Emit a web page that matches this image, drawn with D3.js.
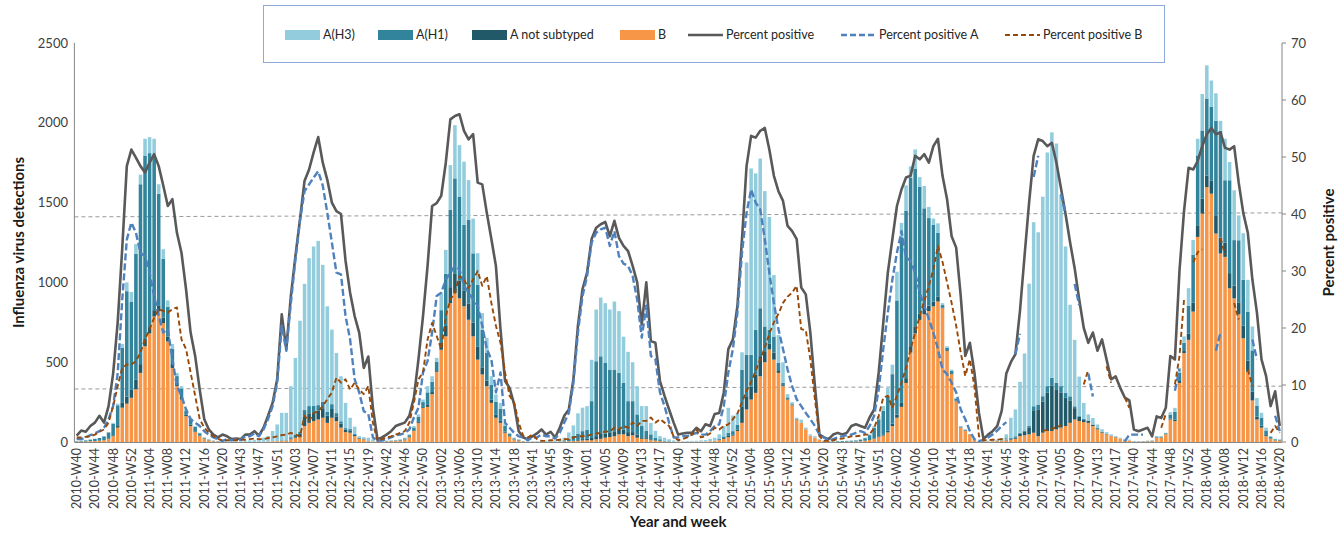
<!DOCTYPE html>
<html><head><meta charset="utf-8">
<script src="https://cdn.jsdelivr.net/npm/d3@7"></script>
<style>
body{margin:0;background:#fff}
svg{display:block}
text{font-family:Lato,"Open Sans","Liberation Sans",sans-serif}
</style>
</head><body>
<svg id="chart" width="1344" height="533"></svg>
<script>
// ---------- DATA ----------
const seasonStartYears = [2010, 2011, 2012, 2013, 2014, 2015, 2016, 2017];
const weeksInYear = {2010: 52, 2011: 52, 2012: 52, 2013: 52, 2014: 52, 2015: 53, 2016: 52, 2017: 52};
const leftTicks = [0, 500, 1000, 1500, 2000, 2500];
const rightTicks = [0, 10, 20, 30, 40, 50, 60, 70];
const thresholdLines = [[39.5, 40.2], [9.3, 9.8]]; // percent, at first and last week

const h3 = [
0,0,0,0,0,0,0,0,5,10,25,55,60,60,60,105,100,100,60,60,40,30,20,15,10,8,5,3,0,0,0,0,0,
4,4,5,5,7,9,11,17,25,34,64,105,172,172,320,480,695,791,927,999,1029,858,660,467,377,282,158,71,46,10,9,21,14,
1,1,1,2,2,3,4,5,9,16,16,39,34,26,107,150,280,333,322,395,250,218,198,104,94,55,45,38,19,7,4,3,1,
2,3,3,4,6,6,7,12,16,40,66,127,147,148,259,324,368,375,376,426,387,290,309,244,177,125,156,72,43,20,19,12,7,
4,4,5,5,6,7,9,15,19,29,65,156,98,71,109,578,1167,980,938,848,707,385,175,130,20,13,8,20,10,8,10,5,4,
1,1,1,1,1,2,2,2,3,5,10,20,30,50,60,180,90,160,70,120,60,140,70,40,60,12,10,8,5,3,2,0,0,0,
3,5,5,8,14,33,127,168,320,483,892,1153,1079,1250,1464,1538,1500,1200,917,574,416,248,100,38,40,23,17,10,8,5,5,5,5,
1,1,1,1,2,3,3,3,15,25,30,40,110,94,104,229,208,166,173,62,260,114,312,156,291,200,150,50,30,18,6,3,3
];
const h1 = [
3,5,7,10,14,17,23,40,73,125,345,660,553,790,1127,1150,1090,974,702,368,187,95,43,54,22,36,28,15,5,5,3,2,2,
0,0,0,0,0,0,0,0,0,0,0,0,3,3,8,10,15,40,45,40,35,40,25,30,20,15,10,8,5,3,2,0,0,
2,2,3,2,3,5,7,11,18,31,30,75,65,51,205,327,485,599,528,411,525,435,389,236,173,92,83,72,36,13,7,5,2,
1,1,1,1,1,1,1,2,8,15,30,40,50,55,231,469,487,443,393,387,350,292,194,194,126,70,39,31,16,10,5,3,2,
0,0,0,0,0,0,0,0,0,5,10,20,20,30,233,260,200,280,300,160,85,100,45,14,10,5,3,0,0,0,0,0,0,
3,3,4,5,5,6,7,10,16,31,67,107,147,220,310,715,1038,1048,1057,988,795,624,548,480,400,15,15,15,12,5,5,3,2,1,
0,0,1,1,2,3,5,8,5,5,8,25,30,35,42,50,44,39,31,25,12,5,3,2,2,1,1,1,1,0,0,0,0,
2,2,2,2,2,6,6,6,26,48,52,52,174,300,438,427,482,460,596,669,390,582,285,389,287,306,259,67,51,29,9,6,5
];
const aNotSubtyped = [
0,0,0,0,0,0,0,0,5,15,30,45,50,60,55,45,40,40,35,35,30,25,20,15,10,8,5,3,2,0,0,0,0,
0,0,0,0,0,0,0,0,0,0,0,0,0,0,5,10,20,60,60,55,55,60,45,55,30,25,15,15,8,4,3,0,0,
0,0,0,1,1,1,1,2,4,6,6,16,13,10,43,65,100,120,110,100,100,85,80,45,35,20,18,15,7,3,1,1,0,
0,0,0,0,0,0,0,0,0,0,3,5,8,10,15,20,30,25,30,30,35,30,25,20,20,10,10,5,3,2,0,0,0,
0,0,0,0,0,0,0,0,0,2,5,8,8,10,100,83,81,115,126,64,38,45,17,6,4,2,1,0,0,0,0,0,0,
0,0,0,0,0,0,0,0,0,0,3,5,8,10,15,20,25,30,40,45,40,40,35,30,30,5,5,6,5,2,2,0,0,0,
0,0,0,1,1,2,5,8,15,25,44,141,168,194,239,283,247,221,177,141,71,26,17,13,8,7,4,3,2,2,0,0,0,
0,0,0,1,1,1,1,1,5,10,12,13,40,55,73,94,73,83,110,100,90,95,80,75,80,70,55,18,12,6,2,1,1
];
const bVirus = [
2,3,3,5,6,8,12,20,37,90,215,240,277,330,433,600,680,786,818,745,630,464,350,266,162,100,62,37,20,10,5,3,3,
1,1,1,1,1,1,1,1,2,3,5,5,8,8,17,27,30,100,120,131,141,152,120,152,131,90,62,58,37,20,17,6,3,
2,3,4,5,6,8,15,30,69,120,214,220,300,440,578,662,870,933,900,850,766,662,516,423,350,245,152,120,58,35,15,8,3,
1,1,1,1,1,1,2,3,3,5,5,8,10,12,10,17,20,27,31,37,48,48,37,42,27,20,20,12,8,5,3,2,1,
1,1,1,2,2,3,3,5,8,12,20,30,40,69,120,204,266,308,412,500,580,516,433,350,266,230,140,120,80,40,27,15,6,
1,1,1,1,2,2,3,5,8,12,20,30,40,60,100,152,220,370,560,680,765,800,820,850,880,838,570,425,255,90,70,45,18,5,
2,3,4,5,8,10,15,20,37,42,48,58,37,58,69,69,79,90,100,120,141,131,125,120,100,79,58,48,37,30,22,15,10,
2,2,3,4,5,27,27,48,141,131,370,557,640,817,1285,1431,1597,1556,1306,1181,1160,963,900,800,650,440,260,141,90,37,20,10,8
];
const pctPositive = [
1.1,2.0,1.8,2.8,3.4,4.6,3.4,6.3,12,21,34,48.4,51.3,49.9,48.4,47.3,49,50.5,48.4,45,41.4,42.6,36.7,33.2,26.8,19.2,15.1,9.2,4,2.2,1.3,0.8,1.3,
1.0,0.5,0.6,0.5,1.3,1.3,1.9,1.1,2.5,4.6,6.9,11,22.4,16.3,25.6,32.6,39,45.8,47.8,50.8,53.5,49,46,42,40.5,40,31.8,26.2,22.1,19.2,13,15,6,
0.5,0.8,1.3,1.9,2.8,3.1,3.4,4.6,7.8,14.5,22.1,30.9,41.4,41.9,43.2,49,56.6,57.2,57.5,54.6,53.1,54,45.5,45.2,40.2,35.6,30.9,19.8,10.7,9.5,6.6,1.9,0.8,
0.5,1.0,1.5,2.2,1.3,1.8,0.8,2.5,4.6,5.7,11,20.4,26.8,29.7,35.6,37.6,38.2,38.6,36.1,38.8,35.8,34.4,33.5,30.9,28,20.6,28,17.7,17.4,10.7,8.1,5.7,3.4,
1.3,1.5,1.6,1.6,2.5,1.9,3.1,2.8,4.9,5.1,8.7,16.3,18,23.9,35.6,48.4,53.7,53.4,54.6,55.1,51.3,46.7,44,42.3,37.9,37,35.6,27.1,25.9,19.2,9.8,1.3,0.8,
0.5,1.3,1.6,1.3,1.6,2.8,3.1,2.8,2.5,4.3,5.7,12.2,20.9,29.7,35.6,41.4,44.3,46.4,46.7,50.2,49.6,50.5,49,51.9,53.2,46.7,42.6,36.1,34.1,25.6,15.1,17.4,12.2,5.1,
0.5,1.3,1.9,2.8,5.5,12,14,15.4,23,32.6,42,50.2,53.1,52.8,51.9,52.5,49,44.5,40,35,30.5,25,20,17.4,19.2,16,18,14.5,11,11.5,9.5,7.8,7.3,
2.2,1.9,2.2,2.5,1.0,4.5,4.2,6.0,15.1,14.5,30,40.5,48.1,47.8,49.3,51.9,54,55.1,54,54.3,51.6,51.3,51.9,45.5,40.2,36.7,28.5,22.7,14.5,11.6,6.3,8.9,2.8
];
const pctPositiveA = [
0.5,0.5,0.8,1.2,1.5,1.9,2.5,4,6.3,12,25,35.5,38.5,36.7,33.2,32.6,29.7,25.6,22.1,19.2,19.8,14.5,9.8,8.1,5.7,4,3.4,2.8,1.9,1.3,0.8,0.5,0.2,
0.5,0.3,0.5,0.4,1,1,1.5,1,2.2,4,6.3,10.4,20.4,16,24.4,32,38.8,44,45.2,46.4,47.5,45,40.2,35,29.7,29.4,22.1,18,11,8.7,5.4,4.9,0.8,
0.2,0.3,0.5,0.8,1.2,1.3,1.6,2.2,4.3,6,12.2,14.2,19.2,25.6,26.2,28.5,29.7,30.9,30.3,27.4,26.2,25,23.9,20.4,16.3,14.5,8.7,12.2,3.4,2.5,1.6,1,0.8,
0.3,0.8,0.8,1.3,1.0,1.0,0.6,1.6,3.4,5.1,10.4,19.2,25.6,29.1,35,36.7,37.3,37.6,34.4,37,32.6,31.3,30.9,29.1,25,18.3,23.9,15.1,14.5,8.7,6.3,3.4,0.8,
0.8,1.0,1.0,1.3,1.6,1.3,1.3,1.9,2.8,3.1,6.3,12.2,16.3,22.7,33.2,40.2,44.3,42,40.8,35.6,29.7,24.4,19.8,16.3,12.7,9.8,7.5,6.3,5.1,4,2.8,1.3,0.8,
0.2,0.5,0.8,1.0,1.2,1.3,1.6,1.9,1.6,2.8,4.6,9.2,16.3,22.7,28.5,33.2,37,32.3,31.8,29.7,26.2,23.9,21.6,19.2,16.3,12.7,11.9,10.4,8.7,5.7,4,1.9,0.5,0.2,
0.3,0.8,1.3,2.0,2.8,3.5,null,15.4,19,null,null,46.5,50.2,null,null,null,null,43.5,40,null,27.7,24,null,12,8,null,null,null,null,null,null,0.1,1.3,
1.3,1.3,1.3,null,null,null,null,null,null,9,12.8,null,null,null,null,null,null,null,16,19.2,null,null,null,null,null,null,18,14.5,null,null,null,4.6,1.9
];
const pctPositiveB = [
0.8,0.8,0.9,1.0,1.3,1.8,2.2,3.4,6.3,9.8,13,13.6,13.6,14.2,15.7,18,19.8,21.8,23.3,23,22.7,23.3,23.6,18,16.3,12.2,8.1,4,2.5,1.6,1,0.6,0.2,
0.3,0.3,0.3,0.4,0.4,0.5,0.6,0.5,0.5,0.7,0.8,1,1.2,1.3,1.6,1.3,1.0,4.6,3.7,5.1,5.4,6.3,7.5,8.7,11.3,10.4,11,9.2,10.4,9.2,8.4,9.8,3.4,
0.2,0.5,0.8,1.0,1.3,1.6,1.9,3.4,6.9,11,12.2,18,20.9,18.6,16.3,22.1,25,26.2,29.1,28.5,27,28.5,30,27.4,29.1,24.4,20.4,17.4,12.2,8.1,6.9,3.4,1.05,
0.8,1.3,0.5,0.2,0.2,0.3,0.3,0.4,0.5,0.5,0.8,1.0,1.0,1.1,1.3,1.5,1.6,1.8,1.9,2.5,2.2,2.8,2.5,3.4,2.8,3.7,3.7,4.3,3.4,4,3.4,2.8,1.0,
0.3,0.5,0.8,1.3,2.2,0.8,1.0,1.5,2.5,2.2,2.8,3.1,4,5,7,9,10.5,12.5,14.5,16.5,19,21,22.5,24.4,25.5,26.2,27.4,19.8,19.6,14.5,7.5,1.0,0.2,
0.2,0.3,0.5,0.6,0.8,1.0,1.0,1.1,1.3,1.3,2.5,4.6,7.8,8.1,6,8.1,10.4,13,16.3,19.2,22.1,24.7,27.4,30.3,34.4,31.6,28,24.4,20.4,15.7,11.6,14.5,9.8,1,
0.3,0.3,0.4,0.4,0.5,0.6,null,null,null,null,null,null,null,2.0,2.1,2.3,2.6,2.9,null,null,null,null,10.1,12.7,null,null,null,13.3,10.4,null,null,7.8,6.0,
null,null,null,null,null,null,2.5,4.9,null,10.1,15,25,null,31.5,33.3,33.8,null,null,null,35.8,32.9,null,24.4,21.5,null,12.7,9.8,null,null,null,1.6,2.8,1.6
];

// ---------- CATEGORIES ----------
const pad2 = n => (n < 10 ? "0" : "") + n;
const weeks = [];
seasonStartYears.forEach(y => {
  for (let w = 40; w <= weeksInYear[y]; w++) weeks.push(`${y}-W${pad2(w)}`);
  for (let w = 1; w <= 20; w++) weeks.push(`${y + 1}-W${pad2(w)}`);
});

const rows = weeks.map((wk, i) => ({
  week: wk, b: bVirus[i], anot: aNotSubtyped[i], h1: h1[i], h3: h3[i]
}));

// ---------- LAYOUT ----------
const svg = d3.select("#chart");
const plot = {left: 74.4, right: 1282, top: 43, bottom: 442};
const col = {h3: "#93CDDD", h1: "#31849B", anot: "#215968", b: "#F79646",
             pp: "#595959", ppa: "#4F81BD", ppb: "#984807"};

const x = d3.scaleBand().domain(weeks).range([plot.left, plot.right]).padding(0);
const step = x.step();
const cx = w => x(w) + step / 2;
const yL = d3.scaleLinear().domain([0, 2500]).range([plot.bottom, plot.top]);
const yR = d3.scaleLinear().domain([0, 70]).range([plot.bottom, plot.top]);

svg.append("rect").attr("width", 1344).attr("height", 533).attr("fill", "#fff");

// threshold / reference dashed lines
svg.append("g").selectAll("line").data(thresholdLines).join("line")
  .attr("x1", plot.left).attr("x2", plot.right)
  .attr("y1", d => yR(d[0])).attr("y2", d => yR(d[1]))
  .attr("stroke", "#9A9A9A").attr("stroke-width", 1).attr("stroke-dasharray", "4,3");

// stacked bars
const keys = ["b", "anot", "h1", "h3"];
const stack = d3.stack().keys(keys)(rows);
svg.append("g").selectAll("g").data(stack).join("g")
  .attr("fill", d => col[d.key])
  .selectAll("rect").data(d => d).join("rect")
  .attr("x", d => x(d.data.week) + step * 0.11)
  .attr("width", step * 0.78)
  .attr("y", d => yL(d[1]))
  .attr("height", d => Math.max(0, yL(d[0]) - yL(d[1])));

// lines
const mkLine = arr => d3.line()
  .defined(d => d != null)
  .x((d, i) => cx(weeks[i]))
  .y(d => yR(d))(arr);

svg.append("path").attr("d", mkLine(pctPositive))
  .attr("fill", "none").attr("stroke", col.pp).attr("stroke-width", 2.6)
  .attr("stroke-linejoin", "round");
svg.append("path").attr("d", mkLine(pctPositiveA))
  .attr("fill", "none").attr("stroke", col.ppa).attr("stroke-width", 2.4)
  .attr("stroke-dasharray", "7,3").attr("stroke-linejoin", "round");
svg.append("path").attr("d", mkLine(pctPositiveB))
  .attr("fill", "none").attr("stroke", col.ppb).attr("stroke-width", 1.9)
  .attr("stroke-dasharray", "5,3").attr("stroke-linejoin", "round");

// axes lines
const axisCol = "#868686";
svg.append("line").attr("x1", plot.left).attr("x2", plot.left)
  .attr("y1", plot.top).attr("y2", plot.bottom).attr("stroke", axisCol);
svg.append("line").attr("x1", plot.right).attr("x2", plot.right)
  .attr("y1", plot.top).attr("y2", plot.bottom).attr("stroke", axisCol);
svg.append("line").attr("x1", plot.left).attr("x2", plot.right)
  .attr("y1", plot.bottom + 0.5).attr("y2", plot.bottom + 0.5).attr("stroke", axisCol);

// left ticks
svg.append("g").selectAll("text").data(leftTicks).join("text")
  .attr("x", 68).attr("y", d => yL(d)).attr("dy", "0.35em")
  .attr("text-anchor", "end").attr("font-size", 13).attr("fill", "#404040")
  .text(d => d);
// right ticks
svg.append("g").selectAll("line").data(rightTicks).join("line")
  .attr("x1", plot.right).attr("x2", plot.right + 4)
  .attr("y1", d => yR(d)).attr("y2", d => yR(d)).attr("stroke", axisCol);
svg.append("g").selectAll("text").data(rightTicks).join("text")
  .attr("x", plot.right + 9).attr("y", d => yR(d)).attr("dy", "0.35em")
  .attr("text-anchor", "start").attr("font-size", 13).attr("fill", "#404040")
  .text(d => d);

// x tick labels (every 4th week)
const xTickWeeks = weeks.filter((w, i) => i % 4 === 0);
svg.append("g").selectAll("text").data(xTickWeeks).join("text")
  .attr("transform", d => `translate(${cx(d)},${plot.bottom + 6}) rotate(-90)`)
  .attr("dy", "0.35em").attr("text-anchor", "end")
  .attr("font-size", 12.5).attr("fill", "#404040")
  .text(d => d);

// axis titles
svg.append("text").attr("x", (plot.left + plot.right) / 2).attr("y", 527)
  .attr("text-anchor", "middle").attr("font-size", 15).attr("font-weight", "bold")
  .attr("fill", "#1a1a1a").text("Year and week");
svg.append("text").attr("transform", `translate(19,${(plot.top + plot.bottom) / 2}) rotate(-90)`)
  .attr("text-anchor", "middle").attr("dy", "0.35em").attr("font-size", 15)
  .attr("font-weight", "bold").attr("fill", "#1a1a1a").text("Influenza virus detections");
svg.append("text").attr("transform", `translate(1329,${(plot.top + plot.bottom) / 2}) rotate(-90)`)
  .attr("text-anchor", "middle").attr("dy", "0.35em").attr("font-size", 15)
  .attr("font-weight", "bold").attr("fill", "#1a1a1a").text("Percent positive");

// legend
const lg = svg.append("g");
lg.append("rect").attr("x", 263.5).attr("y", 5.5).attr("width", 901).attr("height", 57)
  .attr("fill", "#fff").attr("stroke", "#8EAADB").attr("stroke-width", 1);
const legendItems = [
  {label: "A(H3)", type: "rect", color: col.h3, x: 285},
  {label: "A(H1)", type: "rect", color: col.h1, x: 378},
  {label: "A not subtyped", type: "rect", color: col.anot, x: 472},
  {label: "B", type: "rect", color: col.b, x: 620},
  {label: "Percent positive", type: "line", color: col.pp, x: 688, w: 2.6, dash: null},
  {label: "Percent positive A", type: "line", color: col.ppa, x: 841, w: 2.4, dash: "6,3"},
  {label: "Percent positive B", type: "line", color: col.ppb, x: 1005, w: 1.9, dash: "5,3"}
];
const ly = 35;
legendItems.forEach(it => {
  if (it.type === "rect") {
    lg.append("rect").attr("x", it.x).attr("y", ly - 5).attr("width", 35).attr("height", 10)
      .attr("fill", it.color);
  } else {
    lg.append("line").attr("x1", it.x).attr("x2", it.x + 35).attr("y1", ly).attr("y2", ly)
      .attr("stroke", it.color).attr("stroke-width", it.w)
      .attr("stroke-dasharray", it.dash);
  }
  lg.append("text").attr("x", it.x + 38).attr("y", ly).attr("dy", "0.35em")
    .attr("font-size", 12.5).attr("fill", "#262626").text(it.label);
});
</script>
</body></html>
